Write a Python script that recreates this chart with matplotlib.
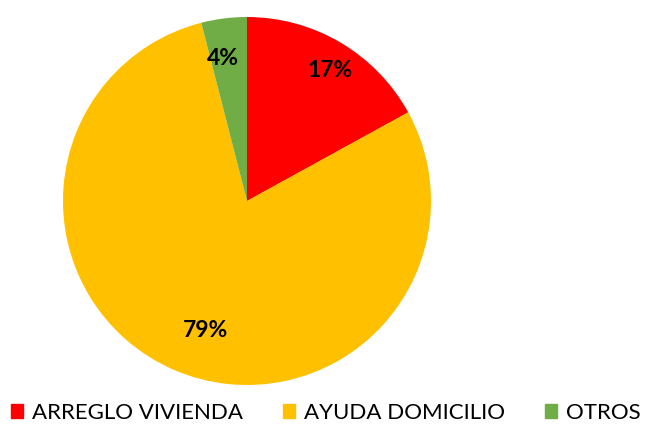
import matplotlib.pyplot as plt
import numpy as np

categories = ['ARREGLO VIVIENDA', 'AYUDA DOMICILIO', 'OTROS']
values = [17, 79, 4]
colors = ['#FF0000', '#FFC000', '#70AD47']

plt.rcParams['font.family'] = ['Lato', 'DejaVu Sans']

fig = plt.figure(figsize=(6.45, 4.25), dpi=100)
# pie: centre (247, 201), radius 184 px
r = 184
ax = fig.add_axes([(247 - r) / 645, (425 - 201 - r) / 425, 2 * r / 645, 2 * r / 425])

wedges, _ = ax.pie(values, colors=colors, startangle=90, counterclock=False,
                   radius=1, wedgeprops=dict(linewidth=0))
ax.set_xlim(-1, 1)
ax.set_ylim(-1, 1)
ax.set_aspect('equal')

# label placement per slice: distance (fraction of radius), angle shift (deg)
label_dist = [0.844, 0.742, 0.785]
label_shift = [-1.9, 5.5, 2.4]
for w, v, d, s in zip(wedges, values, label_dist, label_shift):
    ang = np.deg2rad((w.theta1 + w.theta2) / 2 + s)
    ax.text(d * np.cos(ang), d * np.sin(ang), f'{v}%', ha='center', va='center',
            fontsize=16.5, fontweight='bold', color='black')

handles = [plt.Rectangle((0, 0), 1, 1, color=c) for c in colors]
fig.legend(handles, categories, loc='center', bbox_to_anchor=(326 / 645, (425 - 413) / 425),
           ncol=3, frameon=False, fontsize=16, handlelength=0.55, handleheight=0.55,
           handletextpad=0.4, columnspacing=1.8, borderaxespad=0, borderpad=0)

fig.savefig('out.png', dpi=100)
